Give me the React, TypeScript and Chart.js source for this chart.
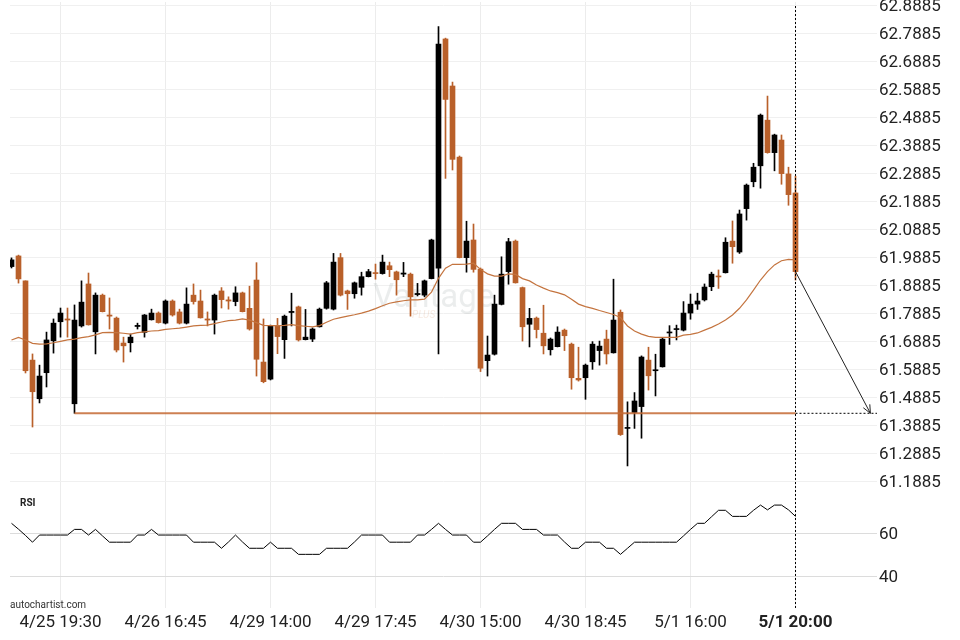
import React, { useEffect, useRef } from 'react';
import { Chart, registerables } from 'chart.js';

Chart.register(...registerables);

const opens = [61.956,61.994,61.905,61.622,61.484,61.577,61.691,61.759,61.769,61.466,
61.744,61.894,61.723,61.854,61.783,61.772,61.683,61.684,61.742,61.721,
61.766,61.790,61.754,61.833,61.794,61.754,61.854,61.833,61.769,61.765,
61.869,61.837,61.831,61.862,61.807,61.908,61.615,61.554,61.744,61.695,
61.792,61.812,61.695,61.697,61.741,61.807,61.804,61.988,61.869,61.859,
61.882,61.920,61.933,61.931,61.959,61.937,61.929,61.929,61.856,61.854,
61.913,61.950,62.769,62.601,62.347,61.988,62.051,61.947,61.620,61.643,
61.821,61.938,62.047,61.881,61.750,61.772,61.718,61.659,61.670,61.729,
61.679,61.557,61.559,61.616,61.656,61.697,61.648,61.793,61.378,61.435,
61.456,61.622,61.584,61.598,61.719,61.731,61.729,61.790,61.822,61.837,
61.884,61.921,61.934,62.047,62.008,62.163,62.259,62.316,62.479,62.363,
62.408,62.287,62.219];

const highs = [61.987,61.997,61.905,61.644,61.604,61.722,61.769,61.808,61.808,61.819,
61.905,61.933,61.862,61.858,61.844,61.776,61.704,61.715,61.754,61.785,
61.804,61.794,61.837,61.837,61.804,61.880,61.894,61.872,61.794,61.858,
61.881,61.848,61.884,61.865,61.886,61.970,61.769,61.747,61.771,61.783,
61.861,61.815,61.803,61.737,61.808,61.903,62.003,62.003,61.872,61.901,
61.936,61.946,61.965,61.997,61.972,61.940,61.971,61.933,61.896,61.908,
62.054,62.813,62.772,62.615,62.351,62.118,62.108,61.951,61.708,61.854,
61.991,62.057,62.051,61.883,61.807,61.776,61.818,61.701,61.741,61.733,
61.683,61.668,61.608,61.688,61.690,61.729,61.911,61.801,61.473,61.506,
61.637,61.668,61.643,61.703,61.745,61.747,61.831,61.858,61.861,61.894,
61.936,61.944,62.059,62.119,62.158,62.251,62.325,62.501,62.565,62.429,
62.426,62.311,62.279];

const lows = [61.951,61.897,61.576,61.383,61.469,61.526,61.647,61.704,61.704,61.432,
61.740,61.747,61.644,61.794,61.733,61.651,61.615,61.651,61.733,61.704,
61.765,61.754,61.751,61.779,61.751,61.751,61.822,61.772,61.744,61.715,
61.808,61.804,61.816,61.794,61.729,61.565,61.541,61.551,61.645,61.628,
61.744,61.690,61.694,61.688,61.740,61.804,61.801,61.851,61.803,61.843,
61.854,61.919,61.911,61.929,61.920,61.854,61.920,61.779,61.851,61.848,
61.912,61.644,62.271,62.301,61.987,61.936,61.936,61.581,61.565,61.640,
61.819,61.893,61.897,61.690,61.669,61.701,61.644,61.640,61.669,61.656,
61.518,61.547,61.482,61.589,61.604,61.608,61.647,61.353,61.244,61.378,
61.343,61.515,61.494,61.597,61.678,61.694,61.726,61.768,61.803,61.833,
61.870,61.878,61.933,61.968,62.003,62.122,62.241,62.236,62.361,62.298,
62.250,62.175,61.908];

const closes = [61.980,61.912,61.584,61.509,61.565,61.694,61.754,61.790,61.765,61.765,
61.829,61.748,61.854,61.795,61.779,61.658,61.673,61.704,61.746,61.783,
61.790,61.756,61.833,61.783,61.754,61.822,61.831,61.773,61.765,61.854,
61.838,61.833,61.862,61.795,61.733,61.625,61.545,61.744,61.706,61.779,
61.796,61.694,61.704,61.733,61.804,61.898,61.972,61.854,61.859,61.898,
61.920,61.938,61.931,61.972,61.945,61.909,61.933,61.848,61.860,61.905,
62.051,62.751,62.553,62.339,61.988,62.047,61.946,61.593,61.640,61.822,
61.929,62.045,61.898,61.741,61.771,61.731,61.673,61.697,61.722,61.709,
61.559,61.551,61.604,61.679,61.672,61.644,61.765,61.356,61.380,61.476,
61.633,61.566,61.587,61.697,61.722,61.733,61.790,61.822,61.833,61.883,
61.929,61.919,62.043,62.027,62.144,62.247,62.311,62.497,62.363,62.426,
62.288,62.213,61.938];

const maValues = [61.694,61.703,61.694,61.682,61.679,61.680,61.684,61.689,61.694,61.697,
61.702,61.706,61.712,61.720,61.721,61.720,61.718,61.715,61.720,61.723,
61.726,61.727,61.732,61.734,61.736,61.740,61.744,61.746,61.747,61.752,
61.758,61.763,61.765,61.769,61.765,61.756,61.746,61.745,61.745,61.746,
61.749,61.745,61.743,61.741,61.745,61.757,61.768,61.774,61.779,61.784,
61.790,61.797,61.806,61.816,61.825,61.830,61.834,61.837,61.837,61.840,
61.865,61.914,61.950,61.964,61.964,61.965,61.968,61.946,61.930,61.922,
61.922,61.930,61.928,61.913,61.905,61.890,61.879,61.869,61.863,61.855,
61.839,61.822,61.813,61.807,61.799,61.792,61.785,61.774,61.744,61.726,
61.715,61.707,61.703,61.703,61.703,61.703,61.711,61.714,61.719,61.729,
61.739,61.751,61.765,61.783,61.807,61.837,61.872,61.908,61.938,61.962,
61.977,61.982,61.980];

const rsiValues = [64.6,61.9,59.0,55.9,59.2,59.2,59.2,59.2,59.2,61.8,
61.8,59.2,61.8,58.8,55.9,55.9,55.9,55.9,59.2,59.2,
61.8,59.2,59.2,59.2,59.2,59.2,55.9,55.9,55.9,55.9,
53.1,56.0,59.2,56.0,53.1,53.1,53.1,55.9,53.1,53.1,
53.1,50.3,50.3,50.3,50.3,53.1,53.1,53.1,53.1,56.0,
59.2,59.2,59.2,59.2,55.9,55.9,55.9,55.9,59.2,59.2,
61.8,64.6,61.8,59.2,59.2,59.2,55.9,55.9,58.8,61.8,
64.6,64.6,64.6,61.8,61.8,61.8,59.2,59.2,59.2,56.0,
53.1,53.1,55.9,55.9,55.9,53.1,53.1,50.3,53.1,55.9,
55.9,55.9,55.9,55.9,55.9,55.9,58.8,61.8,64.6,64.6,
67.6,70.6,70.6,67.8,67.8,67.8,70.6,73.0,70.8,73.0,
73.0,70.8,67.8];

const xTickIndices = [7, 22, 37, 52, 67, 82, 97, 112];
const xTickLabels = ['4/25 19:30', '4/26 16:45', '4/29 14:00', '4/29 17:45', '4/30 15:00', '4/30 18:45', '5/1 16:00', '5/1 20:00'];
const priceTicks = [61.1885, 61.2885, 61.3885, 61.4885, 61.5885, 61.6885, 61.7885, 61.8885, 61.9885,
  62.0885, 62.1885, 62.2885, 62.3885, 62.4885, 62.5885, 62.6885, 62.7885, 62.8885];
const rsiTicks = [40, 60];

const supportLevel = 61.432;
const supportStartIndex = 9;
const projectionIndex = 122.7;

const priceMin = 61.1402;
const priceMax = 62.901;
const rsiMin = 25.58;
const rsiMax = 77.65;
const xMin = -0.2143;
const xMax = 123.643;

const UP_COLOR = '#000000';
const DOWN_COLOR = '#b9602a';

export default function App() {
  const ref = useRef<HTMLCanvasElement>(null);

  useEffect(() => {
    document.body.style.margin = '0';
    const canvas = ref.current;
    if (!canvas) return;
    Chart.defaults.font.family = 'Roboto';
    const idx = opens.map((_, i) => i);
    const colors = idx.map((i) => (closes[i] >= opens[i] ? UP_COLOR : DOWN_COLOR));
    const lastIndex = idx.length - 1;

    const overlay = {
      id: 'overlay',
      beforeDatasetsDraw(chart: any) {
        const { ctx } = chart;
        const xs = chart.scales.x;
        const ys = chart.scales.y;
        const cx = xs.getPixelForValue(60.3);
        const cy = ys.getPixelForValue(61.84);
        ctx.save();
        ctx.fillStyle = 'rgba(130,145,145,0.16)';
        ctx.font = '33px Roboto';
        ctx.textAlign = 'center';
        ctx.textBaseline = 'middle';
        ctx.fillText('Vantage', cx, cy);
        ctx.fillStyle = 'rgba(200,120,70,0.16)';
        ctx.font = 'italic 10px Roboto';
        ctx.fillText('PLUS', cx - 10, cy + 16);
        ctx.restore();
      },
      afterDatasetsDraw(chart: any) {
        const { ctx, chartArea } = chart;
        const xs = chart.scales.x;
        const ys = chart.scales.y;
        const lx = Math.round(xs.getPixelForValue(lastIndex)) + 0.5;
        ctx.save();
        ctx.strokeStyle = '#000';
        ctx.lineWidth = 1;
        ctx.setLineDash([2, 2]);
        ctx.beginPath();
        ctx.moveTo(lx, chartArea.top + 4);
        ctx.lineTo(lx, chartArea.bottom);
        ctx.stroke();
        ctx.setLineDash([]);
        const sx = xs.getPixelForValue(lastIndex);
        const sy = ys.getPixelForValue(closes[lastIndex]);
        const ex = xs.getPixelForValue(projectionIndex);
        const ey = ys.getPixelForValue(supportLevel);
        const ang = Math.atan2(ey - sy, ex - sx);
        const len = 9;
        ctx.strokeStyle = '#222';
        ctx.beginPath();
        ctx.moveTo(ex - len * Math.cos(ang - 0.42), ey - len * Math.sin(ang - 0.42));
        ctx.lineTo(ex, ey);
        ctx.lineTo(ex - len * Math.cos(ang + 0.42), ey - len * Math.sin(ang + 0.42));
        ctx.stroke();
        ctx.restore();
      },
      afterDraw(chart: any) {
        const { ctx, chartArea } = chart;
        const yr = chart.scales.yR;
        ctx.save();
        ctx.fillStyle = '#222';
        ctx.font = 'bold 10px Roboto';
        ctx.textBaseline = 'middle';
        ctx.fillText('RSI', 20, yr.top + 8);
        ctx.font = '10px Roboto';
        ctx.fillStyle = '#333';
        ctx.fillText('autochartist.com', 10, chartArea.bottom - 3);
        ctx.restore();
      },
    };

    const chart = new Chart(canvas, {
      type: 'line',
      data: {
        datasets: [
          {
            type: 'line',
            data: [
              { x: supportStartIndex, y: supportLevel },
              { x: lastIndex, y: supportLevel },
            ],
            borderColor: 'rgba(196,106,52,0.85)',
            borderWidth: 2,
            pointRadius: 0,
            yAxisID: 'y',
            order: 0,
          },
          {
            type: 'line',
            data: [
              { x: lastIndex, y: supportLevel },
              { x: xMax, y: supportLevel },
            ],
            borderColor: '#000',
            borderWidth: 1,
            borderDash: [2, 2],
            pointRadius: 0,
            yAxisID: 'y',
            order: 0,
          },
          {
            type: 'line',
            data: [
              { x: lastIndex, y: closes[lastIndex] },
              { x: projectionIndex, y: supportLevel },
            ],
            borderColor: '#222',
            borderWidth: 1,
            pointRadius: 0,
            yAxisID: 'y',
            order: 0,
          },
          {
            type: 'line',
            data: idx.map((i) => ({ x: i, y: maValues[i] })),
            borderColor: '#c4743f',
            borderWidth: 1.2,
            pointRadius: 0,
            tension: 0,
            yAxisID: 'y',
            order: 1,
          },
          {
            type: 'bar',
            data: idx.map((i) => ({ x: i, y: [opens[i], closes[i]] })),
            backgroundColor: colors,
            borderWidth: 0,
            barThickness: 5,
            minBarLength: 1,
            grouped: false,
            yAxisID: 'y',
            order: 2,
          },
          {
            type: 'bar',
            data: idx.map((i) => ({ x: i, y: [lows[i], highs[i]] })),
            backgroundColor: colors,
            borderWidth: 0,
            barThickness: 1,
            grouped: false,
            yAxisID: 'y',
            order: 3,
          },
          {
            type: 'line',
            data: idx.map((i) => ({ x: i, y: rsiValues[i] })),
            borderColor: '#000',
            borderWidth: 1,
            pointRadius: 0,
            tension: 0,
            yAxisID: 'yR',
            order: 0,
          },
        ],
      } as any,
      options: {
        responsive: false,
        animation: false,
        layout: { padding: { top: 2, left: 10, right: 0, bottom: 0 } },
        plugins: { legend: { display: false }, tooltip: { enabled: false } },
        scales: {
          x: {
            type: 'linear',
            min: xMin,
            max: xMax,
            bounds: 'data',
            offset: false,
            grid: { color: '#ececec', drawTicks: false, offset: false },
            border: { display: false },
            afterBuildTicks: (s: any) => {
              s.ticks = xTickIndices.map((v) => ({ value: v }));
            },
            afterFit: (s: any) => {
              s.height = 32;
              s.paddingLeft = 0;
              s.paddingRight = 0;
            },
            ticks: {
              autoSkip: false,
              maxRotation: 0,
              padding: 5,
              color: '#222',
              font: (c: any) => ({ size: 17, family: 'Roboto', weight: c.index === xTickIndices.length - 1 ? 'bold' : 'normal' }),
              callback: (v: any) => {
                const k = xTickIndices.indexOf(Math.round(Number(v)));
                return k >= 0 ? xTickLabels[k] : '';
              },
            },
          },
          y: {
            type: 'linear',
            position: 'right',
            stack: 'panels',
            stackWeight: 493,
            min: priceMin,
            max: priceMax,
            bounds: 'data',
            grid: { color: '#f0f0f0', drawTicks: false },
            border: { display: false },
            afterBuildTicks: (s: any) => {
              s.ticks = priceTicks.map((v) => ({ value: v }));
            },
            afterFit: (s: any) => {
              s.width = 83;
              s.paddingTop = 0;
              s.paddingBottom = 0;
            },
            ticks: {
              autoSkip: false,
              padding: 2,
              labelOffset: 1,
              color: '#222',
              font: { size: 17, family: 'Roboto' },
              callback: (v: any) => Number(v).toFixed(4),
            },
          },
          yR: {
            type: 'linear',
            position: 'right',
            stack: 'panels',
            stackWeight: 113,
            min: rsiMin,
            max: rsiMax,
            bounds: 'data',
            grid: { color: '#dcdcdc', drawTicks: false },
            border: { display: false },
            afterBuildTicks: (s: any) => {
              s.ticks = rsiTicks.map((v) => ({ value: v }));
            },
            afterFit: (s: any) => {
              s.width = 83;
              s.paddingTop = 0;
              s.paddingBottom = 0;
            },
            ticks: {
              autoSkip: false,
              padding: 2,
              labelOffset: 1,
              color: '#222',
              font: { size: 17, family: 'Roboto' },
              callback: (v: any) => String(Math.round(Number(v))),
            },
          },
        },
      } as any,
      plugins: [overlay],
    });
    return () => chart.destroy();
  }, []);

  return (
    <div style={{ width: 960, height: 640, position: 'relative' }}>
      <canvas ref={ref} width={960} height={640} style={{ display: 'block' }} />
    </div>
  );
}
